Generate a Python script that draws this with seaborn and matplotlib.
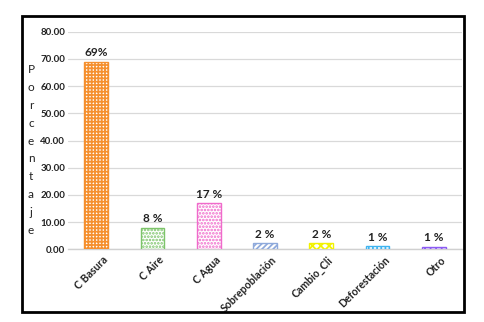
import matplotlib
matplotlib.use("Agg")
import matplotlib.pyplot as plt
import matplotlib.transforms as mtransforms
from matplotlib.patches import Rectangle
import seaborn as sns
import pandas as pd

categories = ["C Basura", "C Aire", "C Agua", "Sobrepoblación", "Cambio_Cli", "Deforestación", "Otro"]
values = [69.0, 8.0, 17.0, 2.2, 2.2, 1.1, 0.9]
value_labels = ["69%", "8 %", "17 %", "2 %", "2 %", "1 %", "1 %"]
colors = ["#F5902F", "#7DC46A", "#F06ACB", "#8EA9DB", "#F2F200", "#3FB4F0", "#8C5CF2"]
hatches = ["+++++", ".....", ".....", "//////", "xxxx", "||||", "+++"]
yticks = [0, 10, 20, 30, 40, 50, 60, 70, 80]
ylabel_text = "Porcentaje"

sns.set_theme(style="white")
plt.rcParams["font.family"] = ["Lato", "DejaVu Sans"]
plt.rcParams["hatch.linewidth"] = 1.25

df = pd.DataFrame({"cat": categories, "val": values})

fig = plt.figure(figsize=(4.85, 3.22), dpi=100)
ax = fig.add_axes([68 / 485, 1 - 249.3 / 322, (462 - 68) / 485, (249.3 - 31.7) / 322])

sns.barplot(data=df, x="cat", y="val", hue="cat", palette=colors, legend=False,
            width=0.42, ax=ax, saturation=1)

for i, cont in enumerate(ax.containers):
    for p in cont:
        p.set_facecolor("white")
        p.set_edgecolor(colors[i])
        p.set_hatch(hatches[i])
        p.set_linewidth(1.0)
        p.set_zorder(3)

ax.set_ylim(0, 80)
ax.set_xlim(-0.5, len(categories) - 0.5)
ax.set_yticks(yticks)
ax.set_yticklabels([f"{t:.2f}" for t in yticks], fontsize=7, fontweight="bold", color="#222222")
ax.yaxis.grid(True, color="#D9D9D9", linewidth=0.9, zorder=0)
ax.set_axisbelow(True)
for s in ["top", "right", "left"]:
    ax.spines[s].set_visible(False)
ax.spines["bottom"].set_color("#D0D0D0")
ax.spines["bottom"].set_linewidth(1.0)
ax.tick_params(axis="y", length=0, pad=2)
ax.tick_params(axis="x", length=0, pad=0)
ax.set_xlabel("")
ax.set_ylabel("")

ax.set_xticks(range(len(categories)))
ax.set_xticklabels(categories, rotation=45, ha="right", va="center",
                   rotation_mode="anchor", fontsize=7.6, fontweight="bold", color="#222222")
offset = mtransforms.ScaledTranslation(10 / 100, -9 / 100, fig.dpi_scale_trans)
for lbl in ax.get_xticklabels():
    lbl.set_transform(lbl.get_transform() + offset)

for i, (v, t) in enumerate(zip(values, value_labels)):
    ax.annotate(t, (i, v), xytext=(0, 2.5), textcoords="offset points",
                ha="center", va="bottom", fontsize=8.5, fontweight="bold", color="#222222")

fig.text(31 / 485, 1 - 150 / 322, "\n".join(ylabel_text), ha="center", va="center",
         fontsize=8.5, linespacing=1.76, color="#222222")

fig.patches.append(Rectangle((22 / 485, 1 - 312 / 322), (464 - 22) / 485, (312 - 16) / 322,
                             transform=fig.transFigure, fill=False, edgecolor="black",
                             linewidth=2.0, zorder=10))

fig.savefig("out.png", dpi=100, facecolor="white")
